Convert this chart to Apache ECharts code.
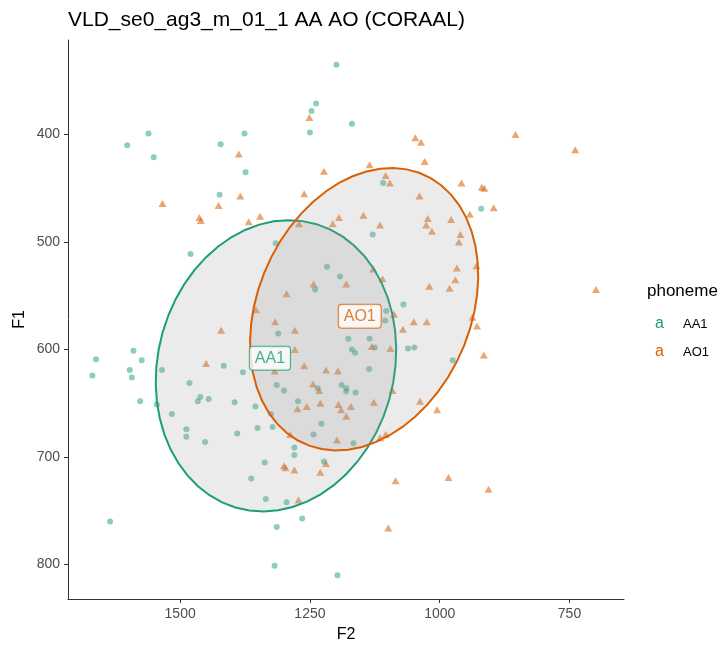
<!DOCTYPE html>
<html>
<head>
<meta charset="utf-8">
<script src="https://cdn.jsdelivr.net/npm/echarts@6/dist/echarts.min.js"></script>
<style>
html,body{margin:0;padding:0;background:#fff;}
#c{width:722px;height:648px;}
</style>
</head>
<body>
<div id="c"></div>
<script>
// ---- data ----
const titleText = 'VLD_se0_ag3_m_01_1 AA AO (CORAAL)';
const categories = ['AA1', 'AO1'];
const xTicks = [1500, 1250, 1000, 750];
const yTicks = [400, 500, 600, 700, 800];

const aa1F2 = [1199,1238,1247,1250,1561,1602,1551,1422,1376,1374,1424,1480,1316,1217,1192,1240,1169,1109,920,1129,
  1070,1662,1669,1590,1574,1597,1593,1577,1535,1545,1482,1461,1466,1445,1516,1488,1488,1452,1416,1379,
  1395,1355,1390,1351,1337,1363,1335,1295,1265,1314,1635,1318,1311,1314,1300,1273,1322,1280,1280,1235,
  1228,1243,1223,1197,1103,1105,1176,1135,1169,1163,1125,1136,1061,1049,975,1189,1180,1180,1162,1166,1325];
const aa1F1 = [335,371,378,398,399,410,421,409,399,435,456,511,501,523,532,544,390,445,469,493,
  558,609,624,601,610,619,626,648,619,651,631,644,648,646,660,674,681,686,615,621,
  649,653,678,673,705,720,739,742,757,765,760,801,585,633,638,648,672,691,698,636,
  669,679,704,810,564,573,590,590,600,603,598,618,599,598,610,633,636,639,640,687,660];

const ao1F2 = [1251,1387,1223,1534,1384,1426,1261,1463,1460,1346,1368,1271,1206,1295,1243,1047,1036,854,739,1029,
  1135,1104,1096,1039,958,919,914,896,942,978,1023,1026,1015,960,963,1147,1194,1115,967,929,
  970,981,1020,1128,1110,1180,699,1421,1450,1317,1279,1279,1261,1318,1219,1196,1354,1244,1232,1274,
  1256,1230,1195,1288,1198,1300,1297,1280,1230,1219,1272,1190,1171,1180,1127,1091,1038,1005,1115,1104,
  1085,983,906,1099,1131,1095,1071,1050,1025,937,928,915,1088];
const ao1F1 = [384,418,434,464,457,466,455,477,480,476,481,483,483,548,539,403,407,400,414,425,
  428,438,445,457,445,449,450,468,474,479,478,484,490,493,500,475,477,484,524,522,
  535,543,541,525,534,539,544,582,613,574,582,600,615,620,619,620,563,632,638,655,
  653,650,651,679,684,708,710,712,714,706,740,656,653,662,649,638,648,656,682,679,
  722,719,730,766,597,599,581,574,574,570,578,605,567];

// points on the ellipse outlines (stat_ellipse)
const aa1EllF2 = [1295,1212,1160,1122,1099,1086,1086,1096,1115,1147,1186,1237,1289,1353,1411,1462,1501,1527,1543,1546,1536,1514,1482,1437,1379,1334];
const aa1EllF1 = [482,489,504,526,551,582,612,643,671,696,718,736,747,752,745,730,705,680,650,625,588,557,529,507,490,483];
const ao1EllF2 = [1083,1025,980,948,932,928,928,942,974,1012,1057,1109,1154,1225,1276,1321,1350,1363,1360,1340,1314,1276,1231,1179,1128];
const ao1EllF1 = [431,436,455,480,501,523,560,588,616,640,662,680,696,699,684,656,622,585,557,523,498,480,461,445,433];

// label positions (group centres)
const labelF2 = [1327, 1154];
const labelF1 = [608, 569];

const colors = ['#1B9E77', '#D95F02'];

function pairs(xs, ys) { return xs.map((x, i) => [x, ys[i]]); }

// least-squares conic through the outline points
function fitEllipse(xs, ys, segments) {
  const n = xs.length;
  const mean = a => a.reduce((s, v) => s + v, 0) / a.length;
  const mx = mean(xs), my = mean(ys);
  const sx = Math.sqrt(mean(xs.map(v => (v - mx) * (v - mx))));
  const sy = Math.sqrt(mean(ys.map(v => (v - my) * (v - my))));
  const M = [0, 1, 2, 3, 4].map(() => [0, 0, 0, 0, 0, 0]);
  for (let i = 0; i < n; i++) {
    const u = (xs[i] - mx) / sx, v = (ys[i] - my) / sy;
    const r = [u * u, u * v, v * v, u, v];
    for (let a = 0; a < 5; a++) {
      for (let b = 0; b < 5; b++) M[a][b] += r[a] * r[b];
      M[a][5] += r[a];
    }
  }
  for (let c = 0; c < 5; c++) {
    let p = c;
    for (let r = c + 1; r < 5; r++) if (Math.abs(M[r][c]) > Math.abs(M[p][c])) p = r;
    [M[c], M[p]] = [M[p], M[c]];
    for (let r = 0; r < 5; r++) {
      if (r === c) continue;
      const f = M[r][c] / M[c][c];
      for (let k = c; k < 6; k++) M[r][k] -= f * M[c][k];
    }
  }
  const [A, B, C, D, E] = M.map((row, i) => row[5] / row[i]);
  const det = A * C - B * B / 4;
  const cu = -0.5 * (C * D - (B / 2) * E) / det;
  const cv = -0.5 * (-(B / 2) * D + A * E) / det;
  const k = 1 + (A * cu * cu + B * cu * cv + C * cv * cv);
  const a = A / k, b = B / 2 / k, c = C / k;
  const dif = Math.sqrt(((a - c) / 2) ** 2 + b * b);
  const l1 = (a + c) / 2 + dif, l2 = (a + c) / 2 - dif;
  const th = 0.5 * Math.atan2(2 * b, a - c);
  const out = [];
  for (let i = 0; i < segments; i++) {
    const t = 2 * Math.PI * i / segments;
    const e1 = Math.cos(t) / Math.sqrt(l1), e2 = Math.sin(t) / Math.sqrt(l2);
    const u = cu + e1 * Math.cos(th) - e2 * Math.sin(th);
    const v = cv + e1 * Math.sin(th) + e2 * Math.cos(th);
    out.push([mx + u * sx, my + v * sy]);
  }
  return out;
}

function ellipseSeries(name, xs, ys, color) {
  const outline = fitEllipse(xs, ys, 52);
  return {
    type: 'custom',
    name: name + ' ellipse',
    z: 5,
    silent: true,
    data: [[xs[0], ys[0]]],
    renderItem: function (params, api) {
      const pts = outline.map(p => api.coord(p));
      return {
        type: 'polygon',
        shape: { points: pts },
        style: { fill: 'rgba(153,153,153,0.2)', stroke: color, lineWidth: 2 }
      };
    }
  };
}

const chart = echarts.init(document.getElementById('c'), null, { renderer: 'canvas' });
const font = 'Liberation Sans, Arial, sans-serif';

chart.setOption({
  animation: false,
  backgroundColor: '#fff',
  textStyle: { fontFamily: font },
  title: [
    { text: titleText, left: 68, top: 10, padding: 0,
      textStyle: { fontFamily: font, fontSize: 21, fontWeight: 'normal', color: '#000' } },
    { text: 'phoneme', left: 647, top: 283, padding: 0,
      textStyle: { fontFamily: font, fontSize: 17, fontWeight: 'normal', color: '#000' } }
  ],
  legend: {
    data: categories,
    orient: 'vertical',
    left: 643,
    top: 311,
    itemWidth: 2,
    itemHeight: 2,
    itemGap: 12,
    itemStyle: { opacity: 0 },
    selectedMode: false,
    formatter: function (name) {
      return (name === 'AA1' ? '{g|a}' : '{o|a}') + '{t|' + name + '}';
    },
    textStyle: {
      fontFamily: font,
      rich: {
        g: { color: colors[0], fontSize: 16, width: 28, lineHeight: 19, fontFamily: font },
        o: { color: colors[1], fontSize: 16, width: 28, lineHeight: 19, fontFamily: font },
        t: { color: '#000', fontSize: 13, lineHeight: 19, fontFamily: font }
      }
    }
  },
  grid: { left: 68, right: 98, top: 40, bottom: 47, containLabel: false },
  xAxis: {
    type: 'value',
    inverse: true,
    min: 645,
    max: 1716,
    name: 'F2',
    nameLocation: 'middle',
    nameGap: 28,
    nameTextStyle: { fontFamily: font, fontSize: 16, color: '#000' },
    axisLine: { show: true, onZero: false, lineStyle: { color: '#333', width: 1 } },
    axisTick: { show: true, length: 4, lineStyle: { color: '#333' }, customValues: xTicks },
    axisLabel: { color: '#4D4D4D', fontSize: 14, margin: 8, fontFamily: font, customValues: xTicks,
      formatter: v => String(v) },
    splitLine: { show: false }
  },
  yAxis: {
    type: 'value',
    inverse: true,
    min: 312,
    max: 832,
    name: 'F1',
    nameLocation: 'middle',
    nameGap: 40,
    nameMoveOverlap: false,
    nameTextStyle: { fontFamily: font, fontSize: 16, color: '#000' },
    axisLine: { show: true, onZero: false, lineStyle: { color: '#333', width: 1 } },
    axisTick: { show: true, length: 4, lineStyle: { color: '#333' }, customValues: yTicks },
    axisLabel: { color: '#4D4D4D', fontSize: 14, margin: 8, fontFamily: font, customValues: yTicks,
      formatter: v => String(v) },
    splitLine: { show: false }
  },
  series: [
    {
      type: 'scatter', name: 'AA1', z: 2,
      symbol: 'circle', symbolSize: 6,
      itemStyle: { color: colors[0], opacity: 0.5 },
      data: pairs(aa1F2, aa1F1)
    },
    {
      type: 'scatter', name: 'AO1', z: 2,
      symbol: 'triangle', symbolSize: [8, 7],
      itemStyle: { color: colors[1], opacity: 0.55 },
      data: pairs(ao1F2, ao1F1)
    },
    ellipseSeries('AA1', aa1EllF2, aa1EllF1, colors[0]),
    ellipseSeries('AO1', ao1EllF2, ao1EllF1, colors[1]),
    {
      type: 'scatter', name: 'labels', z: 10, silent: true,
      symbolSize: 0,
      data: categories.map((c, i) => ({
        value: [labelF2[i], labelF1[i]],
        label: {
          show: true, position: 'inside', formatter: c,
          fontFamily: font, fontSize: 16, color: colors[i],
          backgroundColor: '#fff', borderColor: colors[i], borderWidth: 1,
          borderRadius: 3, padding: [4, 5, 3, 5]
        }
      }))
    }
  ]
});
</script>
</body>
</html>
